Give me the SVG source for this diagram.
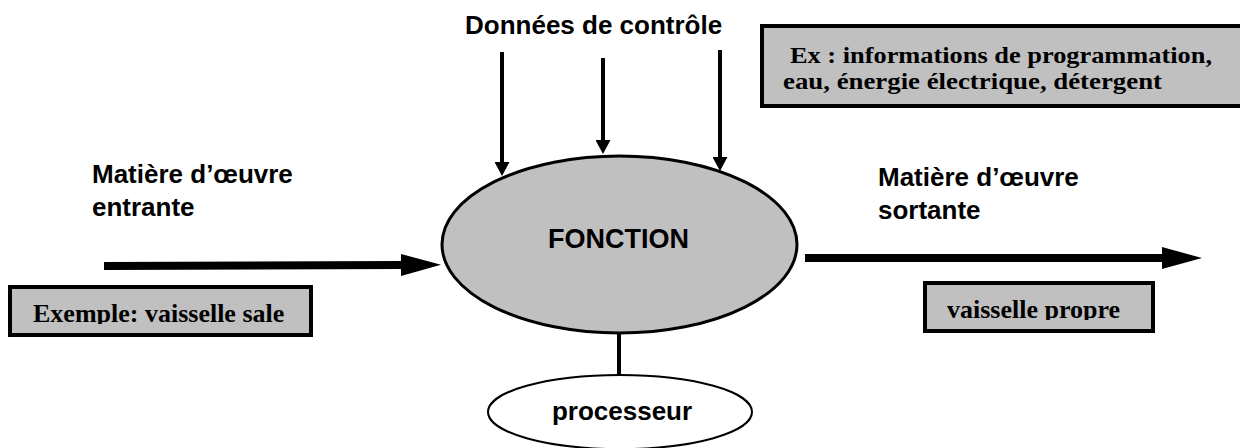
<svg xmlns="http://www.w3.org/2000/svg" width="1240" height="448" viewBox="0 0 1240 448">
  <style>
    .sans { font-family: "Liberation Sans", Arial, sans-serif; font-weight: bold; fill: #000; font-size: 26px; }
    .serif { font-family: "Liberation Serif", "Times New Roman", serif; font-weight: bold; fill: #000; font-size: 26px; }
    .note { font-size: 23px; }
    .title { font-size: 27px; }
    .box { fill: #c0c0c0; stroke: #000; stroke-width: 4; }
    .flow { stroke: #000; stroke-width: 8; fill: none; }
    .ctrl { stroke: #000; stroke-width: 4; fill: none; }
  </style>
  <defs>
    <marker id="headThick" markerUnits="userSpaceOnUse" viewBox="0 0 40 22" markerWidth="40" markerHeight="22" refX="1" refY="11" orient="auto">
      <path d="M0,0 L40,11 L0,22 z" fill="#000"/>
    </marker>
    <marker id="headThin" markerUnits="userSpaceOnUse" viewBox="0 0 14 15" markerWidth="14" markerHeight="15" refX="1" refY="7.5" orient="auto">
      <path d="M0,0 L14,7.5 L0,15 z" fill="#000"/>
    </marker>
    <clipPath id="clipIn">
      <rect x="10" y="287" width="301" height="37"/>
    </clipPath>
    <clipPath id="clipOut">
      <rect x="925" y="283" width="228" height="37"/>
    </clipPath>
  </defs>

  <!-- control data label and example -->
  <g id="controle">
    <text class="sans" x="465" y="34">Données de contrôle</text>
  </g>
  <g id="ex-controle">
    <rect class="box" x="762" y="26" width="490" height="80"/>
    <text class="serif note" x="790" y="63" textLength="422" lengthAdjust="spacingAndGlyphs">Ex : informations de programmation,</text>
    <text class="serif note" x="783" y="89" textLength="379" lengthAdjust="spacingAndGlyphs">eau, énergie électrique, détergent</text>
  </g>

  <!-- input side -->
  <g id="entree">
    <text class="sans" x="92" y="183">Matière d’œuvre</text>
    <text class="sans" x="92" y="216">entrante</text>
  </g>
  <g id="ex-entree">
    <rect class="box" x="10" y="287" width="301" height="48"/>
    <text class="serif" x="33" y="322" clip-path="url(#clipIn)">Exemple: vaisselle sale</text>
  </g>

  <!-- output side -->
  <g id="sortie">
    <text class="sans" x="878" y="186">Matière d’œuvre</text>
    <text class="sans" x="878" y="219">sortante</text>
  </g>
  <g id="ex-sortie">
    <rect class="box" x="925" y="283" width="228" height="48"/>
    <text class="serif" x="947" y="318" clip-path="url(#clipOut)">vaisselle propre</text>
  </g>

  <!-- connectors -->
  <g id="connecteurs">
    <line class="flow" x1="104" y1="266" x2="402" y2="265" marker-end="url(#headThick)"/>
    <line class="flow" x1="805" y1="258" x2="1163" y2="258" marker-end="url(#headThick)"/>
    <line class="ctrl" x1="502" y1="52" x2="502" y2="163" marker-end="url(#headThin)"/>
    <line class="ctrl" x1="603" y1="58" x2="603" y2="141" marker-end="url(#headThin)"/>
    <line class="ctrl" x1="720" y1="50" x2="720" y2="158" marker-end="url(#headThin)"/>
    <line class="ctrl" x1="619" y1="332" x2="619" y2="376"/>
  </g>

  <!-- main function -->
  <g id="fonction">
    <ellipse cx="619.5" cy="244.5" rx="177.5" ry="88.5" fill="#c0c0c0" stroke="#000" stroke-width="3"/>
    <text class="sans title" x="618.5" y="248" text-anchor="middle">FONCTION</text>
  </g>

  <!-- processor -->
  <g id="processeur">
    <ellipse cx="620" cy="412" rx="132" ry="37" fill="#fff" stroke="#000" stroke-width="2"/>
    <text class="sans" x="622" y="420" text-anchor="middle">processeur</text>
  </g>
</svg>
